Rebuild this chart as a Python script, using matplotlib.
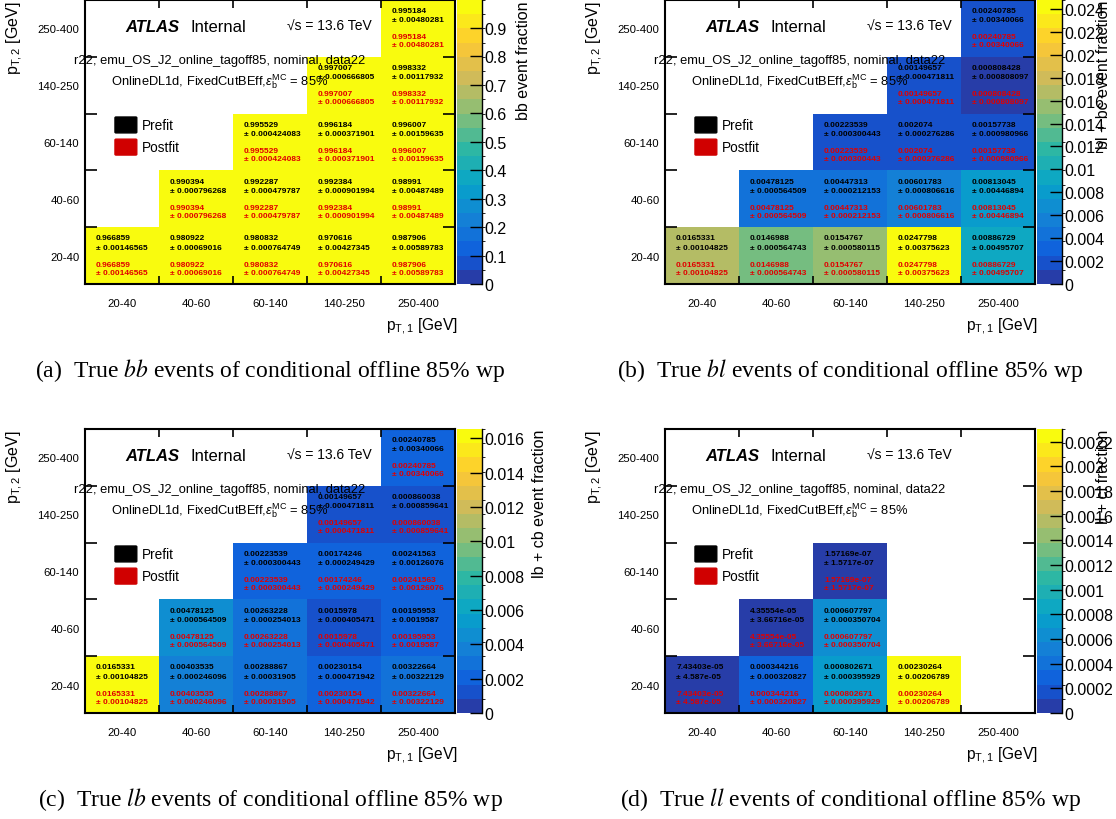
import numpy as np
import matplotlib
matplotlib.use('Agg')
import matplotlib.pyplot as plt
from matplotlib.colors import LinearSegmentedColormap, ListedColormap, BoundaryNorm
from matplotlib.patches import FancyBboxPatch

plt.rcParams['font.family'] = ['Liberation Sans', 'DejaVu Sans']
plt.rcParams['mathtext.fontset'] = 'custom'
plt.rcParams['mathtext.rm'] = 'Liberation Sans'
plt.rcParams['mathtext.it'] = 'Liberation Sans:italic'
plt.rcParams['mathtext.bf'] = 'Liberation Sans:bold'

nan = np.nan
pt_bins = ['20-40', '40-60', '60-140', '140-250', '250-400']

# rows = pT,2 bin (20-40 first), columns = pT,1 bin ; postfit == prefit here
bb_val = [[0.966859, 0.980922, 0.980832, 0.970616, 0.987906],
          [nan, 0.990394, 0.992287, 0.992384, 0.98991],
          [nan, nan, 0.995529, 0.996184, 0.996007],
          [nan, nan, nan, 0.997007, 0.998332],
          [nan, nan, nan, nan, 0.995184]]
bb_err = [[0.00146565, 0.00069016, 0.000764749, 0.00427345, 0.00589783],
          [nan, 0.000796268, 0.000479787, 0.000901994, 0.00487489],
          [nan, nan, 0.000424083, 0.000371901, 0.00159635],
          [nan, nan, nan, 0.000666805, 0.00117932],
          [nan, nan, nan, nan, 0.00480281]]

bl_val = [[0.0165331, 0.0146988, 0.0154767, 0.0247798, 0.00886729],
          [nan, 0.00478125, 0.00447313, 0.00601783, 0.00813045],
          [nan, nan, 0.00223539, 0.002074, 0.00157738],
          [nan, nan, nan, 0.00149657, 0.000808428],
          [nan, nan, nan, nan, 0.00240785]]
bl_err = [[0.00104825, 0.000564743, 0.000580115, 0.00375623, 0.00495707],
          [nan, 0.000564509, 0.000212153, 0.000806616, 0.00446894],
          [nan, nan, 0.000300443, 0.000276286, 0.000980966],
          [nan, nan, nan, 0.000471811, 0.000808097],
          [nan, nan, nan, nan, 0.00340066]]

lb_val = [[0.0165331, 0.00403535, 0.00288867, 0.00230154, 0.00322664],
          [nan, 0.00478125, 0.00263228, 0.0015978, 0.00195953],
          [nan, nan, 0.00223539, 0.00174246, 0.00241563],
          [nan, nan, nan, 0.00149657, 0.000860038],
          [nan, nan, nan, nan, 0.00240785]]
lb_err = [[0.00104825, 0.000246096, 0.00031905, 0.000471942, 0.00322129],
          [nan, 0.000564509, 0.000254013, 0.000405471, 0.0019587],
          [nan, nan, 0.000300443, 0.000249429, 0.00126076],
          [nan, nan, nan, 0.000471811, 0.000859641],
          [nan, nan, nan, nan, 0.00340066]]

ll_val = [[7.43403e-05, 0.000344216, 0.000802671, 0.00230264, nan],
          [nan, 4.35554e-05, 0.000607797, nan, nan],
          [nan, nan, 1.57169e-07, nan, nan],
          [nan, nan, nan, nan, nan],
          [nan, nan, nan, nan, nan]]
ll_err = [[4.587e-05, 0.000320827, 0.000395929, 0.00206789, nan],
          [nan, 3.66716e-05, 0.000350704, nan, nan],
          [nan, nan, 1.5717e-07, nan, nan],
          [nan, nan, nan, nan, nan],
          [nan, nan, nan, nan, nan]]

cb_ticks_bb = [0, 0.1, 0.2, 0.3, 0.4, 0.5, 0.6, 0.7, 0.8, 0.9]
cb_ticks_bl = [0, 0.002, 0.004, 0.006, 0.008, 0.01, 0.012, 0.014, 0.016, 0.018, 0.02, 0.022, 0.024]
cb_ticks_lb = [0, 0.002, 0.004, 0.006, 0.008, 0.01, 0.012, 0.014, 0.016]
cb_ticks_ll = [0, 0.0002, 0.0004, 0.0006, 0.0008, 0.001, 0.0012, 0.0014, 0.0016, 0.0018, 0.002, 0.0022]

# ROOT kBird palette, 20 contour levels
bird_s = [0.0, 0.125, 0.25, 0.375, 0.5, 0.625, 0.75, 0.875, 1.0]
bird_r = [0.2082, 0.0592, 0.0780, 0.0232, 0.1802, 0.5301, 0.8186, 0.9956, 0.9764]
bird_g = [0.1664, 0.3599, 0.5041, 0.6419, 0.7178, 0.7492, 0.7328, 0.7862, 0.9832]
bird_b = [0.5293, 0.8684, 0.8385, 0.7914, 0.6425, 0.4662, 0.3499, 0.1968, 0.0539]
bird = LinearSegmentedColormap.from_list('bird', list(zip(bird_s, zip(bird_r, bird_g, bird_b))))
nlev = 20
cmap = ListedColormap([bird((k + 0.99) / nlev) for k in range(nlev)])

W, H = 1116, 820
fig = plt.figure(figsize=(W / 100, H / 100), dpi=100)


def rect(x0, y0, x1, y1):
    return [x0 / W, 1 - y1 / H, (x1 - x0) / W, (y1 - y0) / H]


red = '#e00000'


def panel(x0, y0, val, err, cb_ticks, cb_label, cb_lab_x, caption):
    ax = fig.add_axes(rect(x0, y0, x0 + 370, y0 + 284))
    cax = fig.add_axes(rect(x0 + 372, y0, x0 + 397, y0 + 284))
    val = np.array(val)
    err = np.array(err)
    vmax = np.nanmax(val)
    norm = BoundaryNorm(np.linspace(0, vmax, nlev + 1), nlev)
    m = ax.pcolormesh(np.arange(6), np.arange(6), np.ma.masked_invalid(val),
                      cmap=cmap, norm=norm)
    ax.set_xlim(0, 5)
    ax.set_ylim(0, 5)
    for r in range(5):
        for c in range(5):
            if np.isnan(val[r, c]):
                continue
            v = '{:g}'.format(val[r, c])
            e = '\u00b1 {:g}'.format(err[r, c])
            for dy, s, col in [(0.19, v, 'k'), (0.35, e, 'k'), (0.65, v, red), (0.79, e, red)]:
                ax.text(c + 0.15, r + 1 - dy, s, color=col, fontsize=6, fontweight='bold',
                        va='center', ha='left')
    # ticks at bin edges, labels at bin centres
    ax.set_xticks([1, 2, 3, 4])
    ax.set_yticks([1, 2, 3, 4])
    ax.set_xticks(np.arange(5) + 0.5, minor=True)
    ax.set_yticks(np.arange(5) + 0.5, minor=True)
    ax.set_xticklabels(pt_bins, minor=True)
    ax.set_yticklabels(pt_bins, minor=True)
    ax.tick_params(which='major', direction='in', top=True, right=True,
                   labelbottom=False, labelleft=False, width=1.2)
    ax.tick_params(axis='x', which='major', length=6)
    ax.tick_params(axis='y', which='major', length=8.5)
    ax.tick_params(which='minor', length=0, labelsize=8.2)
    ax.tick_params(axis='x', which='minor', pad=10)
    ax.tick_params(axis='y', which='minor', pad=4)
    for sp in ax.spines.values():
        sp.set_linewidth(1.5)

    ax.text(0.108, 0.908, 'ATLAS', transform=ax.transAxes, fontsize=12,
            fontweight='bold', fontstyle='italic', va='center')
    ax.text(0.284, 0.908, 'Internal', transform=ax.transAxes, fontsize=12, va='center')
    ax.text(0.546, 0.908, '\u221as = 13.6 TeV', transform=ax.transAxes, fontsize=10, va='center')
    ax.text(0.365, 0.789, 'r22, emu_OS_J2_online_tagoff85, nominal, data22',
            transform=ax.transAxes, fontsize=9.3, va='center', ha='center')
    ax.text(0.365, 0.715, r'OnlineDL1d, FixedCutBEff,$\epsilon_{\mathrm{b}}^{\mathrm{MC}}$ = 85%',
            transform=ax.transAxes, fontsize=9.3, va='center', ha='center')
    for yc, name, col in [(0.56, 'Prefit', 'k'), (0.482, 'Postfit', '#d00000')]:
        ax.add_patch(FancyBboxPatch((0.084, yc - 0.025), 0.053, 0.05,
                                    boxstyle='round,pad=0.003', transform=ax.transAxes,
                                    facecolor=col, edgecolor=col))
        ax.text(0.154, yc, name, transform=ax.transAxes, fontsize=9.8, va='center')

    cb = fig.colorbar(m, cax=cax, ticks=cb_ticks)
    cb.outline.set_visible(False)
    cax.set_yticklabels(['{:g}'.format(t) for t in cb_ticks])
    cax.tick_params(direction='in', length=9, width=1, labelsize=11.5, pad=2)
    cax.plot([1, 1], [0, 1], transform=cax.transAxes, color='k', lw=1, clip_on=False)

    fig.text(cb_lab_x / W, 1 - y0 / H, cb_label, rotation=90, fontsize=11.5,
             ha='center', va='top')
    fig.text((x0 - 70) / W, 1 - y0 / H, r'p$_{\mathrm{T,2}}$ [GeV]', rotation=90,
             fontsize=11.5, ha='center', va='top')
    fig.text((x0 + 373) / W, 1 - (y0 + 326) / H, r'p$_{\mathrm{T,1}}$ [GeV]',
             fontsize=11.2, ha='right', va='center')
    fig.text((x0 + 185) / W, 1 - (y0 + 370) / H, caption, fontsize=17,
             family='Liberation Serif', math_fontfamily='stix', ha='center', va='center')


panel(85, 1, bb_val, bb_err, cb_ticks_bb, 'bb event fraction', 524,
      '(a)  True $bb$ events of conditional offline 85% wp')
panel(665, 1, bl_val, bl_err, cb_ticks_bl, 'bl + bc event fraction', 1104,
      '(b)  True $bl$ events of conditional offline 85% wp')
panel(85, 430, lb_val, lb_err, cb_ticks_lb, 'lb + cb event fraction', 540,
      '(c)  True $lb$ events of conditional offline 85% wp')
panel(665, 430, ll_val, ll_err, cb_ticks_ll, 'll + cl fraction', 1104,
      '(d)  True $ll$ events of conditional offline 85% wp')

fig.savefig('out.png', dpi=100)
